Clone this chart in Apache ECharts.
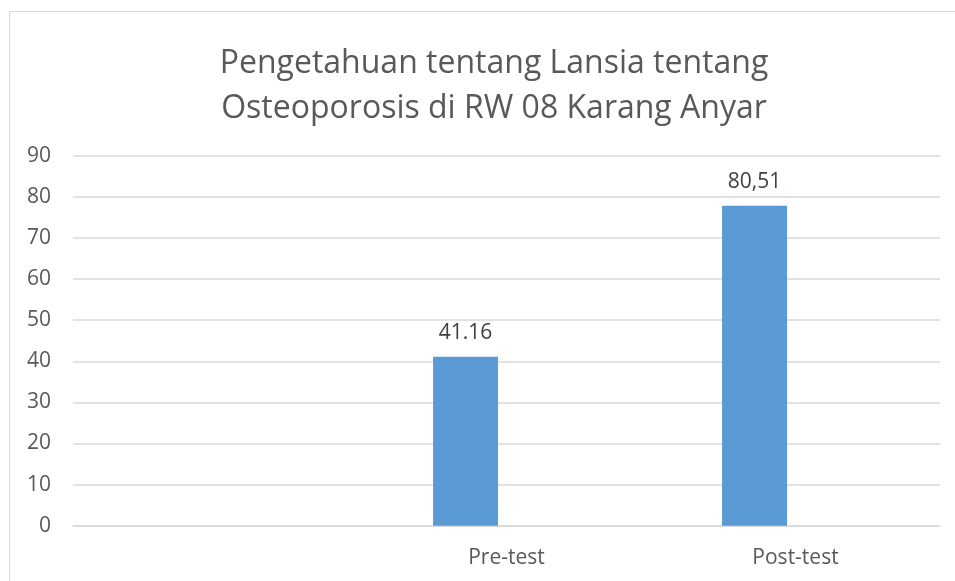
<!DOCTYPE html>
<html lang="id">
	<head>
		<meta charset="UTF-8" />
		<script src="https://cdn.jsdelivr.net/npm/echarts@6/dist/echarts.min.js"></script>
		<style>
			html, body { margin: 0; padding: 0; background: #fff; }
			#main { width: 955px; height: 581px; }
		</style>
	</head>
	<body>
		<div id="main"></div>
		<script>
			// data
			var categories = ['', 'Pre-test', 'Post-test'];
			var values = [null, 41.1, 77.8];
			var labels = ['', '41.16', '80,51'];
			var yTicks = [0, 10, 20, 30, 40, 50, 60, 70, 80, 90];

			var chart = echarts.init(document.getElementById('main'));
			var font = '"Open Sans", "Noto Sans", sans-serif';

			chart.setOption({
				animation: false,
				title: {
					text: 'Pengetahuan tentang Lansia tentang\nOsteoporosis di RW 08 Karang Anyar',
					left: 489,
					top: 36,
					textAlign: 'center',
					textStyle: {
						fontFamily: font,
						fontSize: 32,
						fontWeight: 'normal',
						color: '#595959',
						lineHeight: 45
					}
				},
				graphic: [{
					type: 'rect',
					shape: { x: 9.5, y: 11.5, width: 1000, height: 700 },
					style: { fill: 'none', stroke: '#d9d9d9', lineWidth: 1 },
					silent: true
				}],
				grid: {
					left: 73,
					right: 15,
					top: 155.7,
					bottom: 55.3
				},
				xAxis: {
					type: 'category',
					data: categories,
					axisLine: { lineStyle: { color: '#d9d9d9', width: 1.5 } },
					axisTick: { show: false },
					axisLabel: {
						color: '#595959',
						fontFamily: font,
						fontSize: 21,
						margin: 22
					}
				},
				yAxis: {
					type: 'value',
					min: yTicks[0],
					max: yTicks[yTicks.length - 1],
					interval: 10,
					axisLine: { show: false },
					axisTick: { show: false },
					splitLine: { lineStyle: { color: '#d9d9d9', width: 1.5 } },
					axisLabel: {
						color: '#595959',
						fontFamily: font,
						fontSize: 21,
						margin: 22
					}
				},
				series: [
					{
						type: 'bar',
						data: values,
						barWidth: 65,
						barGap: '26%',
						itemStyle: { color: '#5b9bd5' },
						label: {
							show: true,
							position: 'top',
							distance: 13,
							color: '#404040',
							fontFamily: font,
							fontSize: 21,
							formatter: function (p) { return labels[p.dataIndex]; }
						}
					},
					{
						type: 'bar',
						data: [null, null, null],
						barWidth: 65
					}
				]
			});
		</script>
	</body>
</html>
